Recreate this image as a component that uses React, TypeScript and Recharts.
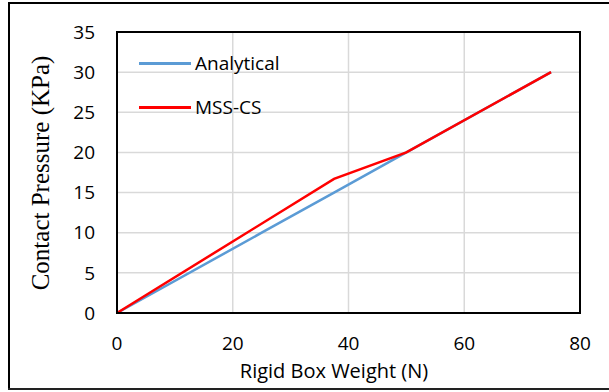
import React from 'react';
import {
  LineChart, Line, XAxis, YAxis, CartesianGrid, ReferenceArea, Label,
} from 'recharts';

const weights = [0, 25, 37.5, 50, 75];
const analytical = [0, 10, 15, 20, 30];
const mssWeights = [0, 37.5, 50, 75];
const mssCs = [0, 16.7, 20, 30];
const xTicks = [0, 20, 40, 60, 80];
const yTicks = [0, 5, 10, 15, 20, 25, 30, 35];

const analyticalData = weights.map((w, i) => ({ w, p: analytical[i] }));
const mssData = mssWeights.map((w, i) => ({ w, p: mssCs[i] }));

const sans = '"Open Sans", "Liberation Sans", sans-serif';

const legendItems = [
  { name: 'Analytical', color: '#5B9BD5' },
  { name: 'MSS-CS', color: '#FF0000' },
];

function ChartLegend() {
  return (
    <div style={{ position: 'absolute', left: 139, top: 41, fontFamily: sans, fontSize: 19, color: '#000' }}>
      {legendItems.map((it) => (
        <div key={it.name} style={{ display: 'flex', alignItems: 'center', height: 44 }}>
          <div style={{ width: 52, height: 3, background: it.color, marginRight: 4 }} />
          <span>{it.name}</span>
        </div>
      ))}
    </div>
  );
}

export default function App() {
  return (
    <div style={{ position: 'fixed', left: 0, top: 0, width: 609, height: 392, background: '#fff', overflow: 'hidden' }}>
      <div style={{ position: 'absolute', left: 0, top: 0 }}>
        <LineChart
          width={609}
          height={392}
          margin={{ top: 32, right: 29, bottom: 0, left: 0 }}
        >
          <CartesianGrid stroke="#d9d9d9" strokeWidth={1.5} />
          <XAxis
            type="number"
            dataKey="w"
            domain={[0, 80]}
            ticks={xTicks}
            height={79}
            tickSize={0}
            tickMargin={24}
            axisLine={{ stroke: '#000', strokeWidth: 2 }}
            tick={{ fill: '#000', fontSize: 19, fontFamily: sans }}
          >
            <Label
              content={() => (
                <text x={334} y={378} textAnchor="middle" fontFamily={sans} fontSize={20} fill="#000">
                  Rigid Box Weight (N)
                </text>
              )}
            />
          </XAxis>
          <YAxis
            type="number"
            dataKey="p"
            domain={[0, 35]}
            ticks={yTicks}
            width={117}
            tickSize={0}
            tickMargin={22}
            axisLine={{ stroke: '#000', strokeWidth: 2 }}
            tick={{ fill: '#000', fontSize: 19, fontFamily: sans }}
          >
            <Label
              content={() => (
                <text
                  x={40}
                  y={173}
                  transform="rotate(-90 40 173)"
                  textAnchor="middle"
                  dominantBaseline="central"
                  fontFamily='"Liberation Serif", "Times New Roman", serif'
                  fontSize={25}
                  fill="#000"
                >
                  Contact Pressure (KPa)
                </text>
              )}
            />
          </YAxis>
          <ReferenceArea x1={0} x2={80} y1={0} y2={35} fill="none" stroke="#000" strokeWidth={2} fillOpacity={0} />
          <Line
            data={analyticalData}
            dataKey="p"
            name="Analytical"
            stroke="#5B9BD5"
            strokeWidth={2.5}
            dot={false}
            isAnimationActive={false}
          />
          <Line
            data={mssData}
            dataKey="p"
            name="MSS-CS"
            stroke="#FF0000"
            strokeWidth={2.5}
            dot={false}
            isAnimationActive={false}
          />
        </LineChart>
      </div>
      <ChartLegend />
      <div style={{ position: 'absolute', left: 8, top: 2, width: 601, height: 2, background: '#000' }} />
      <div style={{ position: 'absolute', left: 8, top: 2, width: 2, height: 388, background: '#000' }} />
      <div style={{ position: 'absolute', left: 8, top: 388, width: 601, height: 2, background: '#222' }} />
    </div>
  );
}
